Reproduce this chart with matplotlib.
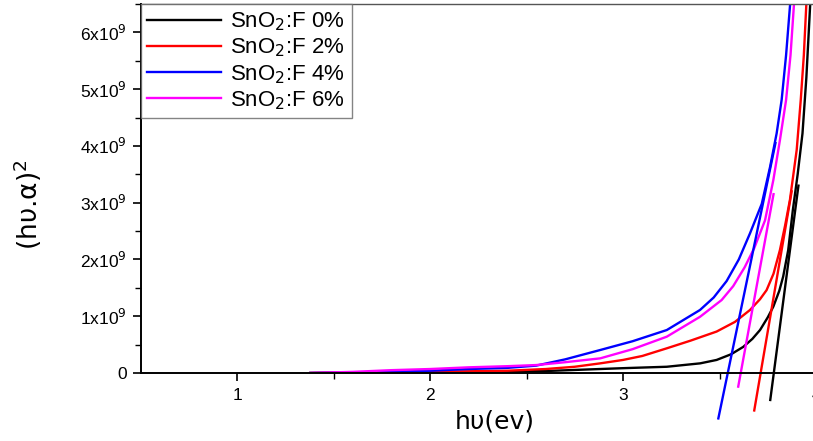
import matplotlib
matplotlib.use("Agg")
import matplotlib.pyplot as plt
from matplotlib.ticker import FixedLocator, MultipleLocator, FuncFormatter

plt.rcParams['font.family'] = ['Liberation Sans', 'DejaVu Sans']

labels = ["SnO$_2$:F 0%", "SnO$_2$:F 2%", "SnO$_2$:F 4%", "SnO$_2$:F 6%"]
colors = ["#000000", "#ff0000", "#0000ff", "#ff00ff"]

# Photon energy (eV) and (h nu . alpha)^2 in units of 1e9
x0 = [1.38, 1.6, 1.8, 2.0, 2.2, 2.4, 2.6, 2.88, 3.0, 3.227, 3.4, 3.485, 3.56, 3.623, 3.67, 3.71, 3.75,
      3.779, 3.81, 3.83, 3.856, 3.88, 3.905, 3.93, 3.95, 3.97, 3.99]
y0 = [0.0, 0.005, 0.01, 0.015, 0.02, 0.025, 0.035, 0.07, 0.085, 0.11, 0.17, 0.23, 0.33, 0.46, 0.6, 0.757, 0.98,
      1.17, 1.45, 1.70, 2.165, 2.87, 3.5, 4.22, 5.2, 6.5, 8.0]

x2 = [1.38, 1.6, 1.8, 2.0, 2.2, 2.4, 2.6, 2.75, 2.882, 3.0, 3.1, 3.227, 3.35, 3.485, 3.58, 3.658, 3.71, 3.744,
      3.78, 3.813, 3.84, 3.865, 3.9, 3.921, 3.937, 3.95, 3.97]
y2 = [0.0, 0.01, 0.015, 0.02, 0.03, 0.04, 0.07, 0.11, 0.17, 0.23, 0.3, 0.435, 0.57, 0.73, 0.9, 1.11, 1.30, 1.46,
      1.75, 2.165, 2.6, 3.05, 3.93, 4.81, 5.6, 6.5, 7.8]

x4 = [1.38, 1.6, 1.8, 2.0, 2.2, 2.4, 2.55, 2.7, 2.882, 3.05, 3.227, 3.399, 3.47, 3.537, 3.6, 3.658, 3.719,
      3.762, 3.796, 3.822, 3.845, 3.866, 3.89]
y4 = [0.0, 0.01, 0.02, 0.04, 0.07, 0.09, 0.13, 0.24, 0.405, 0.56, 0.757, 1.11, 1.33, 1.62, 2.0, 2.46, 2.98,
      3.63, 4.22, 4.81, 5.6, 6.5, 7.5]

x6 = [1.38, 1.6, 1.8, 2.0, 2.2, 2.4, 2.55, 2.7, 2.882, 3.05, 3.227, 3.399, 3.511, 3.571, 3.63, 3.68, 3.736,
      3.779, 3.813, 3.845, 3.868, 3.886, 3.91]
y6 = [0.0, 0.02, 0.05, 0.07, 0.1, 0.12, 0.14, 0.19, 0.258, 0.42, 0.64, 0.99, 1.285, 1.53, 1.86, 2.2, 2.69,
      3.40, 4.10, 4.81, 5.6, 6.5, 7.5]

# Linear extrapolation (Tauc) lines: two end points each
tx0 = [3.763, 3.909]
ty0 = [-0.475, 3.3]
tx2 = [3.68, 3.874]
ty2 = [-0.66, 3.2]
tx4 = [3.494, 3.79]
ty4 = [-0.80, 4.05]
tx6 = [3.597, 3.78]
ty6 = [-0.24, 3.15]

W, H = 813, 441
fig = plt.figure(figsize=(W / 100, H / 100), dpi=100)
left = 140.5 / W
bottom = (H - 373) / H
axw = (816 - 140.5) / W
axh = (373 - 4) / H
ax = fig.add_axes([left, bottom, axw, axh])

curves = [(x0, y0), (x2, y2), (x4, y4), (x6, y6)]
tangents = [(tx0, ty0), (tx2, ty2), (tx4, ty4), (tx6, ty6)]
scale = 1e9
for (xs, ys), c, lab in zip(curves, colors, labels):
    ax.plot(xs, [v * scale for v in ys], color=c, lw=1.7, label=lab, solid_joinstyle='round')
for (xs, ys), c in zip(tangents, colors):
    ax.plot(xs, [v * scale for v in ys], color=c, lw=1.7, clip_on=False)

ax.set_xlim(0.5, 4.0)
ax.set_ylim(0, 6.5e9)

ax.xaxis.set_major_locator(FixedLocator([1, 2, 3, 4]))
ax.xaxis.set_minor_locator(FixedLocator([1.5, 2.5, 3.5]))
ax.yaxis.set_major_locator(MultipleLocator(1e9))
ax.yaxis.set_minor_locator(MultipleLocator(0.5e9))

def yfmt(v, pos):
    n = int(round(v / 1e9))
    if n == 0:
        return "0"
    return r"%dx10$^{9}$" % n

ax.yaxis.set_major_formatter(FuncFormatter(yfmt))
ax.tick_params(axis='both', which='major', direction='out', length=6, width=1.2, labelsize=12.5)
ax.tick_params(axis='both', which='minor', direction='out', length=4, width=1.0)
ax.tick_params(axis='x', pad=5)
ax.tick_params(axis='y', pad=4)

for s in ['left', 'bottom']:
    ax.spines[s].set_linewidth(1.4)
ax.spines['top'].set_linewidth(1.0)
ax.spines['top'].set_color('#555555')

ax.set_xlabel("hυ(ev)", fontsize=18, family=['DejaVu Sans'])
ax.xaxis.set_label_coords((495 - 140.5) / (816 - 140.5), -(410 - 373) / 369)
ax.set_ylabel("(hυ.α)$^2$", fontsize=19, family=['DejaVu Sans'])
ax.yaxis.set_label_coords((44 - 140.5) / (816 - 140.5), (373 - 205) / 369)

leg = ax.legend(loc='upper left', bbox_to_anchor=(0.0, 1.0), fontsize=16, frameon=True,
                fancybox=False, edgecolor='#666666', borderaxespad=0.0,
                handlelength=3.3, handletextpad=0.45, labelspacing=0.16, borderpad=0.3)
leg.get_frame().set_linewidth(1.0)

fig.savefig("out.png", dpi=100)
